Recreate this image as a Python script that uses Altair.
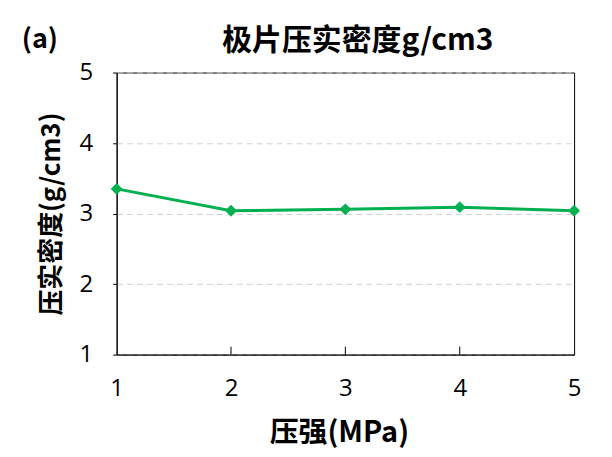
import altair as alt
import pandas as pd

pressure = [1, 2, 3, 4, 5]
density = [3.35, 3.04, 3.06, 3.09, 3.04]
inner_ticks = [2, 3, 4]

GREEN = "#00B050"
CJK = "Noto Sans CJK SC"
NUM = "Open Sans"

df = pd.DataFrame({"p": pressure, "d": density})
tk = pd.DataFrame({"p": inner_ticks})

W, H = 459, 283

x = alt.X("p:Q", scale=alt.Scale(domain=[1, 5], nice=False),
          axis=alt.Axis(title="压强(MPa)", values=pressure, format="d", ticks=False,
                        grid=False, domainColor="black", labelFont=NUM, labelFontSize=24,
                        labelColor="black", labelPadding=22, labelFlush=False,
                        titleFont=CJK, titleFontSize=29,
                        titleFontWeight="bold", titleColor="black", titlePadding=18, titleX=223))
y = alt.Y("d:Q", scale=alt.Scale(domain=[1, 5], nice=False),
          axis=alt.Axis(title="压实密度(g/cm3)", values=[1, 2, 3, 4, 5], format="d", tickSize=4,
                        tickColor="black", domainColor="black", gridColor="#d0d0d0",
                        gridDash=[6, 4], labelFont=NUM, labelFontSize=24, labelColor="black",
                        labelPadding=20, labelFlush=False, titleFont=CJK, titleFontSize=26,
                        titleFontWeight="bold", titleColor="black", titlePadding=15))

line = alt.Chart(df).mark_line(color=GREEN, strokeWidth=3,
                               point=alt.OverlayMarkDef(shape="diamond", size=140, filled=True,
                                                        color=GREEN)).encode(x=x, y=y)

ticks = alt.Chart(tk).mark_rule(color="black", strokeWidth=1).encode(
    x=alt.X("p:Q", scale=alt.Scale(domain=[1, 5], nice=False)),
    y=alt.value(H), y2=alt.value(H - 8))

title = alt.Chart(pd.DataFrame({"t": ["极片压实密度g/cm3"]})).mark_text(
    font=CJK, fontSize=30, fontWeight="bold", color="black", align="center", baseline="middle"
).encode(text="t:N", x=alt.value(242), y=alt.value(-32))

label_a = alt.Chart(pd.DataFrame({"t": ["(a)"]})).mark_text(
    font=CJK, fontSize=27, fontWeight="bold", color="black", align="center", baseline="middle"
).encode(text="t:N", x=alt.value(-77), y=alt.value(-33))

chart = alt.layer(line, ticks, title, label_a).properties(
    width=W, height=H,
    autosize=alt.AutoSizeParams(type="none"),
    padding={"left": 109, "top": 64, "right": 30, "bottom": 100},
).configure_view(stroke="black", strokeWidth=1)

chart.save("out.html", embed_options={"renderer": "svg", "actions": False})
